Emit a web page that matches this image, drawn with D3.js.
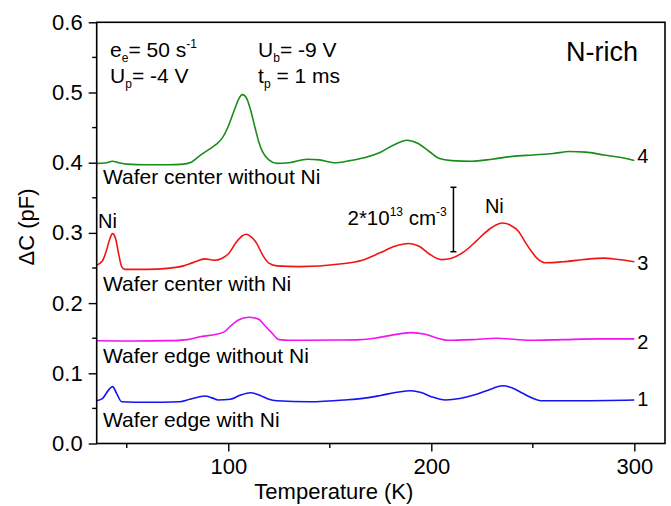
<!DOCTYPE html>
<html>
<head>
<meta charset="utf-8">
<script src="https://cdn.jsdelivr.net/npm/d3@7"></script>
<style>
  body { margin: 0; background: #fff; }
  svg text { font-family: "Liberation Sans", Arial, sans-serif; fill: #000; }
</style>
</head>
<body>
<div id="chart"></div>
<script>
// ---- data ----
// [temperature K, dC pF]
const curve4 = [[35,0.399],[40,0.400],[43,0.402],[46,0.400],[50,0.398],[60,0.397],[70,0.397],[78,0.398],[82,0.401],[86,0.41],[90,0.418],[94,0.426],[97,0.435],[100,0.452],[103,0.475],[105,0.49],[107,0.497],[109,0.492],[111,0.475],[113,0.452],[115,0.43],[117,0.415],[120,0.404],[124,0.399],[130,0.400],[139,0.405],[145,0.404],[152,0.400],[160,0.403],[167,0.407],[175,0.415],[182,0.426],[188,0.432],[193,0.428],[199,0.416],[204,0.406],[210,0.403],[220,0.402],[230,0.405],[240,0.409],[250,0.411],[260,0.413],[268,0.416],[276,0.415],[285,0.411],[292,0.408],[300,0.403]];
const curve3 = [[35,0.254],[38,0.26],[40,0.275],[41.5,0.29],[43,0.299],[44.5,0.292],[46,0.27],[47.5,0.252],[49,0.248],[60,0.248],[70,0.2495],[78,0.253],[83,0.258],[88.5,0.263],[93,0.261],[97,0.264],[100,0.27],[104,0.287],[107,0.296],[109,0.298],[111,0.295],[114,0.285],[117,0.268],[120,0.257],[124,0.253],[135,0.252],[155,0.2557],[166,0.261],[175,0.272],[182,0.281],[189,0.285],[194,0.281],[199,0.27],[205,0.262],[210,0.264],[216,0.273],[222,0.288],[226,0.299],[230,0.308],[235,0.314],[239,0.311],[243,0.302],[246,0.288],[249,0.275],[252,0.264],[256,0.2575],[265,0.259],[275,0.262],[285,0.264],[292,0.262],[300,0.259]];
const curve2 = [[35,0.1464],[53,0.146],[70,0.1465],[80,0.148],[86,0.152],[93,0.155],[98,0.159],[101,0.167],[105,0.176],[110,0.1798],[115,0.177],[118,0.168],[121,0.159],[125,0.148],[130,0.147],[155,0.1474],[165,0.148],[172,0.15],[180,0.154],[190,0.158],[197,0.1556],[203,0.15],[208,0.147],[220,0.148],[232,0.15],[249,0.147],[265,0.148],[282,0.149],[300,0.149]];
const curve1 = [[35,0.061],[38,0.064],[41,0.076],[43,0.081],[45,0.0715],[47.5,0.0595],[60,0.0587],[76,0.0595],[81,0.063],[85,0.066],[88.5,0.0677],[92,0.065],[95,0.062],[101,0.063],[106,0.069],[111,0.0724],[116,0.068],[120,0.063],[124,0.061],[140,0.0595],[157,0.062],[168,0.065],[175,0.0685],[183,0.073],[190,0.0752],[195,0.0725],[200,0.0667],[207,0.062],[214,0.064],[221,0.069],[228,0.076],[235,0.0823],[240,0.079],[245,0.0715],[250,0.0645],[254,0.061],[273,0.061],[300,0.062]];

const xMajor = [100, 200, 300];
const xMinor = [50, 150, 250];
const yMajor = [0, 0.1, 0.2, 0.3, 0.4, 0.5, 0.6];
const yMinor = [0.05, 0.15, 0.25, 0.35, 0.45, 0.55];

const series = [
  { name: "4", data: curve4, color: "#1a8c1a", label: "Wafer center without Ni", labelV: 0.3697, numV: 0.3989 },
  { name: "3", data: curve3, color: "#f01414", label: "Wafer center with Ni", labelV: 0.2172, numV: 0.2472 },
  { name: "2", data: curve2, color: "#f014f0", label: "Wafer edge without Ni", labelV: 0.1142, numV: 0.1346 },
  { name: "1", data: curve1, color: "#1414f0", label: "Wafer edge with Ni", labelV: 0.0239, numV: 0.0534 }
];

// ---- layout ----
const W = 671, H = 506;
const plot = { left: 96.7, right: 665, top: 22.3, bottom: 443.5 };

const svg = d3.select("#chart").append("svg")
  .attr("width", W).attr("height", H);

const x = d3.scaleLinear().domain([35.2, 315.1]).range([plot.left, plot.right]);
const y = d3.scaleLinear().domain([0, 0.6]).range([plot.bottom, plot.top]);

// curves
const line = d3.line()
  .x(d => x(d[0]))
  .y(d => y(d[1]))
  .curve(d3.curveMonotoneX);

svg.selectAll("path.curve")
  .data(series)
  .enter().append("path")
  .attr("class", "curve")
  .attr("d", d => line(d.data))
  .attr("fill", "none")
  .attr("stroke", d => d.color)
  .attr("stroke-width", 1.6);

// frame
svg.append("rect")
  .attr("x", plot.left).attr("y", plot.top)
  .attr("width", plot.right - plot.left)
  .attr("height", plot.bottom - plot.top)
  .attr("fill", "none")
  .attr("stroke", "#000")
  .attr("stroke-width", 1.6);

// x axis
const xAxis = svg.append("g")
  .attr("transform", `translate(0,${plot.bottom})`)
  .call(d3.axisBottom(x).tickValues(xMajor).tickSize(8).tickPadding(7).tickFormat(d3.format("d")));
xAxis.append("g").selectAll("line")
  .data(xMinor).enter().append("line")
  .attr("x1", d => x(d)).attr("x2", d => x(d))
  .attr("y1", 0).attr("y2", 4.5)
  .attr("stroke", "#000").attr("stroke-width", 1.4);

// y axis
const yAxis = svg.append("g")
  .attr("transform", `translate(${plot.left},0)`)
  .call(d3.axisLeft(y).tickValues(yMajor).tickSize(8).tickPadding(6).tickFormat(d3.format(".1f")));
yAxis.append("g").selectAll("line")
  .data(yMinor).enter().append("line")
  .attr("x1", 0).attr("x2", -4.5)
  .attr("y1", d => y(d)).attr("y2", d => y(d))
  .attr("stroke", "#000").attr("stroke-width", 1.4);

[xAxis, yAxis].forEach(g => {
  g.select(".domain").remove();
  g.selectAll(".tick line").attr("stroke", "#000").attr("stroke-width", 1.4);
  g.selectAll(".tick text")
    .style("font-family", '"Liberation Sans", Arial, sans-serif')
    .style("font-size", "22px")
    .attr("fill", "#000");
});

// axis titles
svg.append("text")
  .attr("x", (plot.left + plot.right) / 2 - 47)
  .attr("y", 499)
  .attr("text-anchor", "middle")
  .style("font-size", "22px")
  .text("Temperature (K)");

svg.append("text")
  .attr("transform", `translate(34,${227}) rotate(-90)`)
  .attr("text-anchor", "middle")
  .style("font-size", "22px")
  .text("\u0394C (pF)");

// curve labels
svg.selectAll("text.clabel")
  .data(series).enter().append("text")
  .attr("class", "clabel")
  .attr("x", x(38.3))
  .attr("y", d => y(d.labelV))
  .style("font-size", "21px")
  .text(d => d.label);

svg.selectAll("text.cnum")
  .data(series).enter().append("text")
  .attr("class", "cnum")
  .attr("x", x(301.4))
  .attr("y", d => y(d.numV))
  .style("font-size", "20px")
  .text(d => d.name);

// Ni labels
svg.append("text").attr("x", x(35.9)).attr("y", y(0.307))
  .style("font-size", "20px").text("Ni");
svg.append("text").attr("x", x(226.4)).attr("y", y(0.3283))
  .style("font-size", "20px").text("Ni");

// measurement conditions
function subText(tx, ty, parts) {
  const t = svg.append("text").attr("x", x(tx)).attr("y", y(ty)).style("font-size", "21px");
  parts.forEach(p => {
    const s = t.append("tspan").text(p.t);
    if (p.sub) s.attr("dy", 5).style("font-size", "12px");
    if (p.sup) s.attr("dy", -9).style("font-size", "12px");
    if (p.back) s.attr("dy", p.back);
  });
}
subText(41.8, 0.551, [{ t: "e" }, { t: "e", sub: true }, { t: "= 50 s", back: -5 }, { t: "-1", sup: true }]);
subText(114.7, 0.551, [{ t: "U" }, { t: "b", sub: true }, { t: "= -9 V", back: -5 }]);
subText(41.8, 0.513, [{ t: "U" }, { t: "p", sub: true }, { t: "= -4 V", back: -5 }]);
subText(114.7, 0.513, [{ t: "t" }, { t: "p", sub: true }, { t: " = 1 ms", back: -5 }]);

svg.append("text").attr("x", x(266.4)).attr("y", y(0.545))
  .style("font-size", "27px").text("N-rich");

// concentration scale bar
const barT = 210.9, barLo = 0.2732, barHi = 0.365;
const bar = svg.append("g").attr("stroke", "#000").attr("stroke-width", 1.5);
bar.append("line").attr("x1", x(barT)).attr("x2", x(barT)).attr("y1", y(barLo)).attr("y2", y(barHi));
bar.append("line").attr("x1", x(barT) - 3).attr("x2", x(barT) + 3).attr("y1", y(barLo)).attr("y2", y(barLo));
bar.append("line").attr("x1", x(barT) - 3).attr("x2", x(barT) + 3).attr("y1", y(barHi)).attr("y2", y(barHi));

const bl = svg.append("text").attr("x", x(207.6)).attr("y", y(0.3113))
  .attr("text-anchor", "end").style("font-size", "20.5px");
bl.append("tspan").text("2*10");
bl.append("tspan").attr("dy", -9).style("font-size", "12px").text("13");
bl.append("tspan").attr("dy", 9).text(" cm");
bl.append("tspan").attr("dy", -9).style("font-size", "12px").text("-3");
</script>
</body>
</html>
